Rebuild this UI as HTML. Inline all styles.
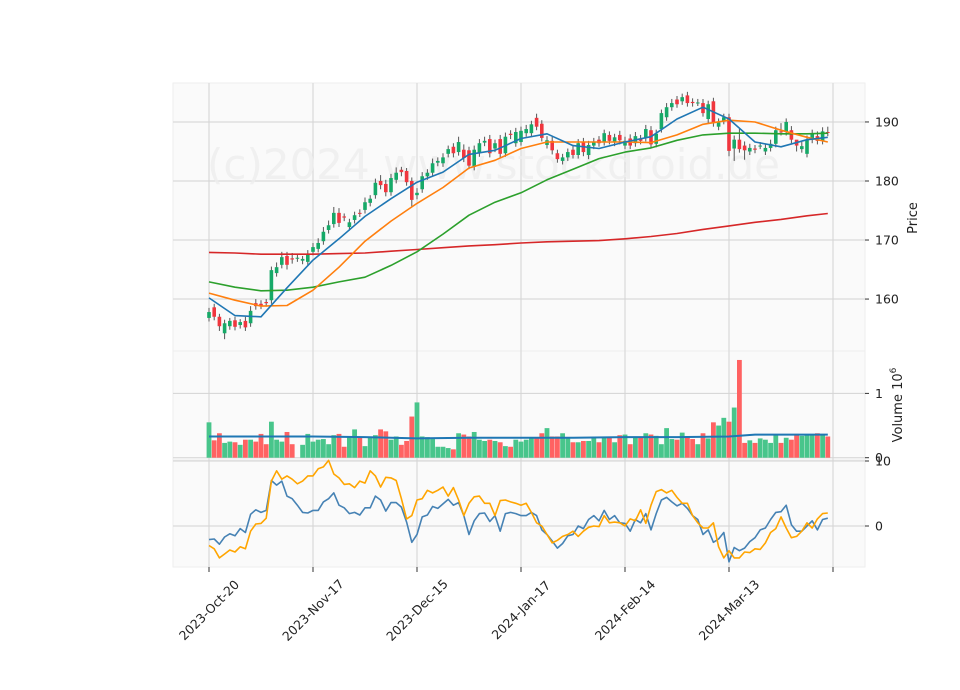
<!DOCTYPE html>
<html><head><meta charset="utf-8"><style>
html,body{margin:0;padding:0;background:#fff;}
svg{display:block;font-family:"DejaVu Sans","Liberation Sans",sans-serif;}
</style></head><body>
<svg id="chart" width="960" height="690" viewBox="0 0 960 690" xmlns="http://www.w3.org/2000/svg">
<rect x="0" y="0" width="960" height="690" fill="#fff"/>
<g id="panels"></g>
<text x="207" y="179" font-size="42" fill="#eeeeee" fill-opacity="0.8">(c)2024 www.stockdroid.de</text>
<g id="marks"></g>
<g id="axes"></g>
</svg>
<script>
const opens=[156.8,158.6,157.0,154.2,155.4,156.4,155.6,156.3,155.9,159.3,159.2,159.5,159.8,164.4,165.8,167.3,166.9,166.9,166.5,166.3,168.0,168.5,169.8,171.7,172.7,174.6,174.0,172.2,173.4,174.6,175.1,176.3,177.6,180.0,179.5,178.1,180.2,181.9,181.7,180.0,177.6,178.6,180.8,181.4,183.1,183.0,184.6,185.8,184.9,185.3,185.2,182.4,184.7,186.5,187.1,185.5,187.1,184.7,188.0,186.4,186.6,188.1,188.1,190.7,189.7,186.1,186.8,184.7,183.4,184.0,185.3,184.4,186.6,184.4,186.0,187.0,186.6,187.8,186.6,187.8,186.0,187.2,186.4,187.2,187.3,188.6,186.3,188.8,190.8,192.5,193.8,193.5,194.5,193.4,193.3,193.2,190.5,193.5,189.2,190.2,190.8,185.5,187.0,186.0,185.0,185.5,186.0,185.0,185.6,186.3,188.4,188.3,188.6,187.0,185.4,184.6,187.0,187.6,186.8,188.3];
const closes=[157.8,157.0,155.4,155.9,156.3,155.3,156.1,155.2,158.0,158.8,158.9,159.3,164.9,165.4,167.1,165.8,166.7,167.0,166.8,167.5,168.8,169.5,171.4,172.5,174.6,172.9,173.8,173.0,174.2,174.5,176.4,177.0,179.7,179.3,178.1,180.5,181.4,181.5,179.8,176.8,178.0,180.8,181.4,183.0,183.4,184.0,185.4,184.7,186.6,183.9,182.6,185.3,186.4,186.8,184.7,186.4,184.6,187.5,187.8,188.3,188.5,188.8,189.6,189.2,187.3,186.9,185.2,183.7,184.0,184.9,184.4,186.4,184.9,186.1,186.6,186.4,188.1,186.8,187.4,186.9,186.8,186.0,187.6,186.8,188.8,186.2,188.0,191.5,192.5,193.2,193.0,194.2,193.2,193.2,193.3,191.5,193.0,189.8,189.9,190.8,185.1,187.0,185.4,185.2,185.6,185.3,186.0,185.6,186.3,188.6,188.3,190.0,187.0,186.0,185.9,187.0,188.0,186.8,188.4,188.2];
const highs=[158.5,159.2,157.5,156.5,156.8,157.0,156.6,157.0,158.8,160.0,159.8,160.0,165.5,166.2,168.0,168.0,167.8,167.6,167.3,168.3,169.5,170.3,172.2,173.3,175.6,175.4,174.5,173.6,174.8,175.2,177.2,177.6,180.4,181.0,180.2,181.2,182.3,182.4,182.2,180.6,178.8,181.5,182.0,183.8,184.0,184.7,186.0,186.4,187.5,186.2,185.8,186.0,187.1,187.5,187.8,187.0,187.8,188.2,188.6,189.0,189.2,189.5,190.2,191.4,190.3,187.6,187.5,185.3,184.6,185.5,186.0,187.1,187.3,186.8,187.3,187.6,188.7,188.4,188.0,188.5,187.5,187.9,188.3,187.8,189.5,189.3,188.7,192.1,193.2,193.9,194.4,194.8,195.1,194.0,193.9,193.9,193.6,194.1,190.6,191.4,191.4,187.7,188.8,186.7,186.3,186.1,186.6,186.3,187.0,189.2,189.8,190.6,189.3,186.7,186.6,187.7,188.7,188.4,189.1,189.2];
const lows=[156.2,156.4,154.6,153.2,154.8,154.7,155.0,154.6,155.3,158.2,158.3,158.7,159.2,163.8,165.2,165.0,166.0,166.3,165.9,165.7,167.4,167.9,169.2,171.1,172.1,172.2,173.2,171.6,172.8,173.9,174.5,175.7,177.0,178.6,177.4,177.5,179.6,180.8,179.2,175.6,176.9,178.0,180.2,180.8,182.5,182.4,184.0,184.0,184.3,183.2,182.0,181.8,184.1,185.9,184.0,184.9,183.9,184.1,187.1,185.8,186.0,187.5,187.5,188.6,186.7,185.5,184.5,183.1,182.8,183.4,183.8,183.8,184.2,183.7,185.4,185.8,186.0,186.2,185.9,186.2,185.4,185.4,185.8,186.2,186.7,185.5,185.7,188.2,190.2,191.9,192.4,192.9,192.6,192.6,192.7,190.9,189.8,189.2,188.6,189.6,184.2,183.4,184.8,183.6,184.4,184.7,185.4,184.4,185.0,185.7,187.7,187.7,186.4,185.0,184.8,184.0,186.4,186.2,186.2,187.6];
const maIdx=[0,5,10,15,20,25,30,35,40,45,50,55,60,65,70,75,80,85,90,95,100,105,110,115,119];
const maBlue=[160.2,157.2,157.0,161.9,166.6,170.2,174.0,177.0,179.8,181.5,184.5,185.2,187.2,188.0,186.0,185.5,186.6,187.5,190.5,192.5,190.5,186.6,185.8,187.0,187.4];
const maOrange=[161.0,159.8,158.8,158.9,161.5,165.4,169.8,173.2,176.2,178.9,182.2,183.5,185.5,186.6,186.6,186.6,186.6,186.5,187.8,189.6,190.3,190.0,188.6,187.4,186.6];
const maGreen=[162.9,162.0,161.4,161.5,162.0,162.9,163.7,165.7,168.0,171.0,174.2,176.4,178.0,180.2,182.0,183.8,184.9,185.6,186.9,187.8,188.1,188.1,188.0,188.0,188.1];
const maRed=[167.9,167.8,167.6,167.6,167.6,167.7,167.8,168.1,168.4,168.7,169.0,169.2,169.5,169.7,169.8,169.9,170.2,170.6,171.1,171.8,172.4,173.0,173.5,174.1,174.5];
const volumes=[.55,.27,.38,.23,.25,.24,.20,.28,.28,.25,.37,.21,.56,.28,.25,.40,.21,0,.20,.37,.25,.28,.29,.21,.35,.37,.17,.32,.44,.32,.18,.32,.35,.44,.41,.28,.33,.20,.26,.64,.86,.33,.32,.29,.17,.17,.15,.13,.38,.36,.33,.40,.28,.26,.28,.26,.24,.18,.17,.28,.25,.28,.32,.30,.38,.46,.33,.33,.38,.31,.24,.24,.26,.26,.31,.24,.31,.31,.24,.35,.36,.21,.31,.31,.38,.36,.34,.21,.46,.29,.28,.39,.33,.29,.21,.38,.30,.55,.50,.62,.56,.78,1.52,.23,.27,.23,.30,.28,.23,.36,.23,.31,.28,.37,.34,.36,.36,.38,.37,.33];
const volMaIdx=[0,10,20,30,40,50,60,70,80,90,100,105,110,119];
const volMa=[.33,.33,.33,.32,.30,.31,.31,.31,.32,.32,.33,.36,.36,.36];
const macdLine=[-2.1,-2,-2.8,-1.7,-1.2,-1.5,-0.4,-1,1.8,2.5,2.1,2.4,7,6.3,6.9,4.6,4.2,3.2,2.1,2,2.4,2.4,3.7,4.2,5.1,3.2,2.8,1.9,2.1,1.7,2.8,2.8,4.6,4,2.3,3.6,3.6,2.9,0.6,-2.5,-1.3,1.4,1.7,3,2.7,3.4,4.1,3.2,3.6,1.6,-1.3,0.8,1.9,2,0.7,1.6,-0.8,1.9,2.1,1.9,1.6,1.6,2.1,1.6,-0.6,-1.3,-2.3,-3.4,-2.7,-1.5,-1.3,0,-0.4,1,1.6,0.8,2.4,1,1.6,0.5,0.4,-0.8,1,0.5,1.9,-0.6,1.9,4,4.4,3.7,3.1,3.5,2.7,1.6,1,-1.3,-0.6,-2.5,-2,-1,-5.5,-3.3,-3.8,-3.4,-2.4,-1.8,-0.6,-0.3,1,2.1,2.2,3.2,0.2,-0.8,-0.8,0,0.8,-0.6,1,1.2];
const signalLine=[-3,-3.5,-4.9,-4.3,-3.7,-4,-3.2,-3.5,-0.8,0.3,0.4,1.2,6.9,8.5,7.2,7.7,7.2,6.5,6.9,7.7,7.7,8.8,9.1,10.1,8,7.4,6.4,6.5,5.9,6.9,6.6,8.5,7.7,6,7.5,7.4,7,4.2,1.1,1.6,4,4.2,5.5,5.1,5.5,6,4.6,5.9,4,1.6,3.5,4.5,4.6,3.5,3.5,1.6,3.9,4,3.7,3.5,3.2,3.5,2.1,0.5,0,-1.3,-2.6,-2.2,-1.6,-1.3,-0.8,-1.6,-0.8,-0.2,0,-0.1,1.6,0.5,0.6,0.5,0,1.1,0.8,2.5,0.4,3.2,5.3,5.6,5.1,5.5,4.4,3.5,3.5,1.6,0.5,-0.3,-0.3,0.5,-3.2,-4.9,-3.8,-4.9,-4.9,-4,-4.1,-3.5,-3.6,-2.6,-1,-0.4,1.4,-0.3,-1.8,-1.6,-0.8,0.5,-0.3,1.1,1.9,2];
const xTickIdx=[0,20,40,60,80,100,120];
const xTickLabels=["2023-Oct-20","2023-Nov-17","2023-Dec-15","2024-Jan-17","2024-Feb-14","2024-Mar-13",""];
const priceTicks=[160,170,180,190];
const volTicks=[0,1];
const macdTicks=[0,10];

const NS="http://www.w3.org/2000/svg";
const L=173,R=865;
const P={top:83,bot:351,min:151.2,max:196.6};
const V={top:351,bot:460};
const M={top:460,bot:567};
const xs=i=>209+i*5.2;
const yP=v=>P.bot-(v-P.min)/(P.max-P.min)*(P.bot-P.top);
const yV=v=>457.7-v*64.3;
const yM=v=>526-(v)*6.5;
function el(tag,attrs,parent){const e=document.createElementNS(NS,tag);for(const k in attrs)e.setAttribute(k,attrs[k]);parent.appendChild(e);return e;}
const panels=document.getElementById('panels'),marks=document.getElementById('marks'),axes=document.getElementById('axes');

[[P,'price-panel'],[V,'volume-panel'],[M,'macd-panel']].forEach(([p,n])=>{
  const r=el('rect',{x:L,y:p.top,width:R-L,height:p.bot-p.top,fill:'#fafafa',stroke:'#eeeeee','stroke-width':1},panels);
  
  
});
xTickIdx.forEach(i=>{
  [P,V,M].forEach(p=>{
    const g=el('line',{x1:xs(i),x2:xs(i),y1:p.top,y2:p.bot,stroke:'#d3d3d3','stroke-width':1},panels);
    
    
  });
  const t=el('line',{x1:xs(i),x2:xs(i),y1:567,y2:572,stroke:'#333','stroke-width':1},axes);
  
  
});
function hgrid(ticks,yf,fmt,name){
  ticks.forEach(v=>{
    const y=yf(v);
    const g=el('line',{x1:L,x2:R,y1:y,y2:y,stroke:'#d3d3d3','stroke-width':1},panels);
    
    
    const t=el('line',{x1:R,x2:R+4,y1:y,y2:y,stroke:'#333','stroke-width':1},axes);
    
    
    const tx=el('text',{x:R+10,y:y+4.5,'font-size':12.5,fill:'#222'},axes);
    tx.textContent=fmt(v);
    
    
  });
}
hgrid(priceTicks,yP,v=>v,'price');
hgrid(volTicks,yV,v=>v,'volume');
hgrid(macdTicks,yM,v=>v,'macd');

for(let i=0;i<closes.length;i++){
  const up=closes[i]>=opens[i];
  const x=xs(i);
  const w=el('line',{x1:x,x2:x,y1:yP(highs[i]),y2:yP(lows[i]),stroke:'#555','stroke-width':1},marks);
  
  
  const y1=yP(Math.max(opens[i],closes[i])),y2=yP(Math.min(opens[i],closes[i]));
  const b=el('rect',{x:x-1.8,y:y1,width:3.6,height:Math.max(1,y2-y1),fill:up?'#16a968':'#f0363e'},marks);
  
  
  const vb=el('rect',{x:x-2.4,y:yV(volumes[i]),width:4.8,height:457.7-yV(volumes[i]),fill:up?'#48c58b':'#ff6262'},marks);
  
  
}
function line(idx,vals,yf,color,w,name){
  const pts=vals.map((v,k)=>xs(idx?idx[k]:k).toFixed(1)+','+yf(v).toFixed(1)).join(' ');
  const pl=el('polyline',{points:pts,fill:'none',stroke:color,'stroke-width':w,'stroke-linejoin':'round'},marks);
  
  
}
line(maIdx,maRed,yP,'#d62728',1.6,'ma-red-line');
line(maIdx,maGreen,yP,'#2ca02c',1.6,'ma-green-line');
line(maIdx,maOrange,yP,'#ff7f0e',1.6,'ma-orange-line');
line(maIdx,maBlue,yP,'#1f77b4',1.6,'ma-blue-line');
line(volMaIdx,volMa,yV,'#1f77b4',2,'volume-ma-line');
line(null,macdLine,yM,'#4682b4',1.6,'macd-line');
line(null,signalLine,yM,'#ffa500',1.6,'signal-line');

xTickIdx.forEach((i,k)=>{
  if(!xTickLabels[k])return;
  const x=xs(i),y=610;
  const t=el('text',{x:x,y:y+4.5,'font-size':12.5,fill:'#222','text-anchor':'middle',transform:`rotate(-45 ${x} ${y})`},axes);
  t.textContent=xTickLabels[k];
  
  
});
const pt=el('text',{x:917,y:218,'font-size':13,fill:'#222','text-anchor':'middle',transform:'rotate(-90 917 218)'},axes);
pt.textContent='Price';


const vt=el('text',{x:902,y:405,'font-size':13,fill:'#222','text-anchor':'middle',transform:'rotate(-90 902 405)'},axes);
vt.innerHTML='Volume  10<tspan font-size="9" dy="-6">6</tspan>';


</script>
</body></html>
